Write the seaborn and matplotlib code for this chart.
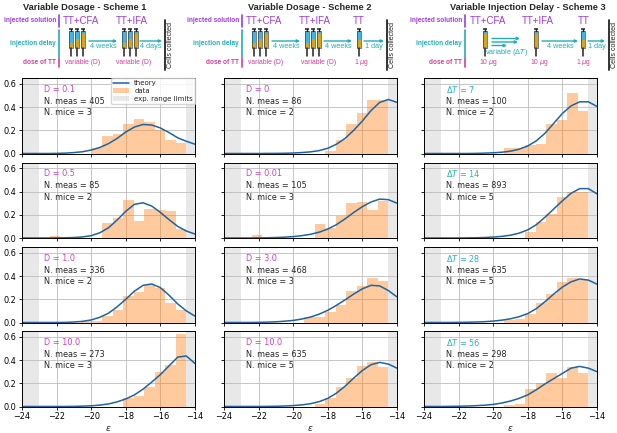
import numpy as np
import pandas as pd
import seaborn as sns
import matplotlib.pyplot as plt
from matplotlib.patches import Patch, Rectangle
from matplotlib.lines import Line2D

# ---- data ----
bin_edges = np.linspace(-23, -14.5, 15)          # 14 bins, shared by all panels
bin_mids = (bin_edges[:-1] + bin_edges[1:]) / 2
eps_grid = np.arange(-24, -13.99, 0.5)            # theory curve sample points

# scheme 1: variable dosage
s1_labels = ["D = 0.1", "D = 0.5", "D = 1.0", "D = 10.0"]
s1_meas = [405, 85, 336, 273]
s1_mice = [3, 2, 2, 3]
s1_hist = [
    [0, 0, 0, 0, 0, 0.05, 0.15, 0.17, 0.25, 0.30, 0.27, 0.20, 0.12, 0.09],
    [0, 0.015, 0, 0.005, 0, 0, 0.13, 0.17, 0.33, 0.15, 0.25, 0.24, 0.23, 0.08],
    [0, 0, 0, 0, 0.01, 0.01, 0.06, 0.11, 0.23, 0.26, 0.32, 0.30, 0.17, 0.11],
    [0, 0, 0, 0, 0, 0, 0, 0, 0.07, 0.09, 0.165, 0.30, 0.36, 0.625],
]
s1_theory = [
    [0, 0, 0, 0, 0.001, 0.003, 0.008, 0.015, 0.03, 0.052, 0.085, 0.13, 0.185, 0.228, 0.25, 0.245, 0.22, 0.18, 0.135, 0.105, 0.08],
    [0, 0, 0, 0, 0.001, 0.002, 0.004, 0.009, 0.02, 0.045, 0.088, 0.155, 0.23, 0.29, 0.303, 0.275, 0.22, 0.158, 0.1, 0.06, 0.034],
    [0, 0, 0, 0, 0, 0.001, 0.004, 0.01, 0.022, 0.045, 0.08, 0.135, 0.2, 0.27, 0.32, 0.332, 0.3, 0.235, 0.16, 0.1, 0.055],
    [0, 0, 0, 0, 0, 0, 0.001, 0.003, 0.006, 0.012, 0.022, 0.04, 0.065, 0.1, 0.15, 0.21, 0.275, 0.35, 0.425, 0.435, 0.37],
]

# scheme 2: variable dosage, 3 injections
s2_labels = ["D = 0", "D = 0.01", "D = 3.0", "D = 10.0"]
s2_meas = [86, 105, 468, 635]
s2_mice = [2, 3, 3, 5]
s2_hist = [
    [0, 0, 0, 0, 0, 0, 0, 0, 0.02, 0.115, 0.255, 0.35, 0.46, 0.46],
    [0, 0.027, 0, 0, 0, 0, 0, 0.12, 0.09, 0.19, 0.30, 0.31, 0.24, 0.32],
    [0, 0, 0, 0, 0, 0, 0.05, 0.05, 0.09, 0.15, 0.27, 0.31, 0.38, 0.36],
    [0, 0, 0, 0, 0, 0, 0, 0.02, 0.07, 0.165, 0.245, 0.35, 0.38, 0.34],
]
s2_theory = [
    [0, 0, 0, 0, 0, 0.001, 0.001, 0.002, 0.004, 0.008, 0.014, 0.025, 0.045, 0.08, 0.13, 0.2, 0.28, 0.37, 0.44, 0.465, 0.44],
    [0, 0, 0, 0, 0.001, 0.002, 0.004, 0.007, 0.012, 0.02, 0.032, 0.05, 0.077, 0.115, 0.165, 0.22, 0.27, 0.31, 0.335, 0.33, 0.3],
    [0, 0, 0, 0, 0.001, 0.003, 0.006, 0.011, 0.018, 0.03, 0.047, 0.072, 0.105, 0.148, 0.195, 0.245, 0.29, 0.32, 0.315, 0.275, 0.22],
    [0, 0, 0, 0, 0, 0.001, 0.002, 0.004, 0.008, 0.014, 0.024, 0.042, 0.07, 0.115, 0.175, 0.245, 0.31, 0.36, 0.38, 0.365, 0.33],
]

# scheme 3: variable injection delay
s3_labels = [r"$\Delta T$ = 7", r"$\Delta T$ = 14", r"$\Delta T$ = 28", r"$\Delta T$ = 56"]
s3_meas = [100, 893, 635, 298]
s3_mice = [2, 5, 5, 2]
s3_hist = [
    [0, 0, 0, 0, 0, 0, 0.045, 0.045, 0.07, 0.08, 0.25, 0.29, 0.52, 0.37],
    [0, 0, 0, 0, 0, 0, 0, 0, 0.05, 0.14, 0.21, 0.35, 0.40, 0.40],
    [0, 0, 0, 0, 0, 0, 0.02, 0.03, 0.07, 0.165, 0.245, 0.35, 0.38, 0.365],
    [0, 0, 0, 0, 0, 0, 0.01, 0.02, 0.15, 0.20, 0.285, 0.245, 0.34, 0.285],
]
s3_theory = [
    [0, 0, 0, 0, 0, 0, 0.001, 0.003, 0.006, 0.011, 0.02, 0.037, 0.065, 0.11, 0.175, 0.26, 0.345, 0.41, 0.445, 0.445, 0.405],
    [0, 0, 0, 0, 0, 0.001, 0.002, 0.004, 0.008, 0.014, 0.024, 0.042, 0.07, 0.115, 0.18, 0.25, 0.32, 0.385, 0.425, 0.425, 0.38],
    [0, 0, 0, 0, 0.001, 0.002, 0.004, 0.007, 0.012, 0.02, 0.032, 0.05, 0.077, 0.12, 0.18, 0.245, 0.305, 0.35, 0.375, 0.365, 0.33],
    [0, 0, 0, 0.001, 0.002, 0.004, 0.007, 0.011, 0.018, 0.03, 0.047, 0.07, 0.1, 0.145, 0.195, 0.24, 0.285, 0.33, 0.345, 0.33, 0.3],
]

# ---- style ----
sns.set_theme(style="ticks")
plt.rcParams['font.family'] = ['DejaVu Sans']
plt.rcParams['mathtext.fontset'] = 'dejavusans'

C_LINE = '#1f64a0'
C_DOSE = '#c940c0'
C_DT = '#2ab3b8'
PURPLE = '#9b3fd5'
TEAL = '#21adb5'
MAGENTA = '#cf3f9b'
FS = 5.9

W, H = 617, 433
fig = plt.figure(figsize=(W / 100, H / 100), dpi=100)

col_left = [22, 224, 424]
row_top = [78, 162.5, 247, 331]
ax_w, ax_h = 173, 75.5

schemes = [
    (s1_labels, s1_meas, s1_mice, s1_hist, s1_theory, C_DOSE),
    (s2_labels, s2_meas, s2_mice, s2_hist, s2_theory, C_DOSE),
    (s3_labels, s3_meas, s3_mice, s3_hist, s3_theory, C_DT),
]

for c, (labels, meas, mice, hists, theos, lab_col) in enumerate(schemes):
    for r in range(4):
        ax = fig.add_axes([col_left[c] / W, 1 - (row_top[r] + ax_h) / H, ax_w / W, ax_h / H])
        ax.axvspan(-24, -23, color='lightgray', alpha=0.5, lw=0, zorder=0)
        ax.axvspan(-14.5, -14, color='lightgray', alpha=0.5, lw=0, zorder=0)
        hdf = pd.DataFrame({'eps': bin_mids, 'dens': hists[r]})
        sns.histplot(data=hdf, x='eps', weights='dens', bins=list(bin_edges), ax=ax,
                     color='tab:orange', alpha=0.4, linewidth=0, stat='count')
        sns.lineplot(x=eps_grid, y=theos[r], ax=ax, color=C_LINE, lw=1.1)
        ax.set_xlim(-24, -14)
        ax.set_ylim(0, 0.65)
        ax.set_xticks([-24, -22, -20, -18, -16, -14])
        ax.set_yticks([0, 0.2, 0.4, 0.6])
        ax.grid(True, color='#bdbdbd', lw=0.6)
        ax.set_axisbelow(True)
        ax.set_ylabel('')
        ax.set_xlabel('')
        for sp in ax.spines.values():
            sp.set_color('black')
            sp.set_linewidth(0.7)
        ax.tick_params(labelsize=FS, length=2.5, width=0.6, pad=1.5, colors='black')
        if c > 0:
            ax.tick_params(labelleft=False)
        else:
            ax.set_yticklabels(['0.0', '0.2', '0.4', '0.6'])
        if r < 3:
            ax.tick_params(labelbottom=False)
        else:
            ax.set_xlabel(r'$\varepsilon$', fontsize=FS + 0.5, labelpad=2)
        ax.text(0.13, 0.85, labels[r], transform=ax.transAxes, color=lab_col, fontsize=FS, va='center')
        ax.text(0.13, 0.69, f"N. meas = {meas[r]}", transform=ax.transAxes, fontsize=FS, va='center')
        ax.text(0.13, 0.54, f"N. mice = {mice[r]}", transform=ax.transAxes, fontsize=FS, va='center')
        if c == 0 and r == 0:
            handles = [Line2D([0], [0], color=C_LINE, lw=1.1),
                       Patch(color='tab:orange', alpha=0.4, lw=0),
                       Patch(color='lightgray', alpha=0.5, lw=0)]
            ax.legend(handles, ['theory', 'data', 'exp. range limits'], loc='upper right',
                      fontsize=5.0, borderaxespad=0.0, handlelength=2.2, framealpha=0.8,
                      borderpad=0.3, labelspacing=0.3, fancybox=True, edgecolor='#cccccc')

# ---- schematics above the panels (pixel coordinates) ----
ax0 = fig.add_axes([0, 0, 1, 1])
ax0.set_xlim(0, W)
ax0.set_ylim(H, 0)
ax0.axis('off')
SF = 'Liberation Sans'


def syringe(x, blue_frac):
    top, b0, b1, tip = 28.5, 31.0, 48.0, 55.5
    ax0.plot([x - 2.4, x + 2.4], [top, top], color='#222222', lw=1.1, solid_capstyle='butt')
    ax0.plot([x, x], [top, b0], color='#222222', lw=1.0)
    hb = (b1 - b0) * blue_frac
    ax0.add_patch(Rectangle((x - 2.3, b0), 4.6, hb, facecolor='#3fb6e8', edgecolor='none'))
    ax0.add_patch(Rectangle((x - 2.3, b0 + hb), 4.6, (b1 - b0) - hb, facecolor='#d6a51e', edgecolor='none'))
    ax0.add_patch(Rectangle((x - 2.3, b0), 4.6, b1 - b0, facecolor='none', edgecolor='#333333', lw=0.45))
    ax0.plot([x, x], [b1, tip], color='#222222', lw=1.1)


def arrow(x1, x2, y):
    ax0.annotate('', xy=(x2, y), xytext=(x1, y),
                 arrowprops=dict(arrowstyle='-|>', color=TEAL, lw=1.0, mutation_scale=4,
                                 shrinkA=0, shrinkB=0))


def side_labels(xr):
    ax0.text(xr, 21, 'injected solution', ha='right', va='center', color=PURPLE,
             fontsize=4.7, fontweight='bold', family=SF)
    ax0.text(xr, 43.5, 'injection delay', ha='right', va='center', color=TEAL,
             fontsize=4.7, fontweight='bold', family=SF)
    ax0.text(xr, 62, 'dose of TT', ha='right', va='center', color=MAGENTA,
             fontsize=4.7, fontweight='bold', family=SF)
    ax0.plot([xr + 3, xr + 3], [15, 27], color=PURPLE, lw=1.2)
    ax0.plot([xr + 3, xr + 3], [29.5, 56.5], color=TEAL, lw=1.2)
    ax0.plot([xr + 3, xr + 3], [57.5, 67], color=MAGENTA, lw=1.2)


def cells(x):
    ax0.plot([x, x], [20, 70], color='#222222', lw=1.3)
    ax0.text(x + 6, 45, 'Cells collected', rotation=90, ha='center', va='center',
             fontsize=5.1, family=SF, color='#222222')


def inj(x, txt):
    ax0.text(x, 21, txt, ha='left', va='center', color=PURPLE, fontsize=7, family=SF)


def dose(x, txt, ha='left'):
    ax0.text(x, 62, txt, ha=ha, va='center', color=MAGENTA, fontsize=4.9, family=SF)


def delay(x1, x2, txt):
    arrow(x1, x2, 41)
    ax0.text((x1 + x2) / 2, 46, txt, ha='center', va='center', color=TEAL, fontsize=5.2, family=SF)


# scheme 1
ax0.text(84.5, 7.5, 'Variable Dosage - Scheme 1', ha='center', va='center',
         fontsize=6.7, fontweight='bold', family=SF)
side_labels(56)
inj(63, 'TT+CFA')
inj(116, 'TT+IFA')
for x, f in zip([71, 77, 83], [0.7, 0.45, 0.15]):
    syringe(x, f)
for x, f in zip([124, 130, 136], [0.7, 0.45, 0.15]):
    syringe(x, f)
delay(89, 117, '4 weeks')
delay(140, 162, '4 days')
cells(165)
dose(65, 'variable (D)')
dose(116, 'variable (D)')

# scheme 2
ax0.text(309.5, 7.5, 'Variable Dosage - Scheme 2', ha='center', va='center',
         fontsize=6.7, fontweight='bold', family=SF)
side_labels(239)
inj(246, 'TT+CFA')
inj(299, 'TT+IFA')
inj(353, 'TT')
for x, f in zip([254, 260, 266], [0.7, 0.45, 0.15]):
    syringe(x, f)
for x, f in zip([307, 313, 319], [0.7, 0.45, 0.15]):
    syringe(x, f)
syringe(359, 0.55)
delay(272, 300, '4 weeks')
delay(324, 352, '4 weeks')
delay(364, 384, '1 day')
cells(387)
dose(248, 'variable (D)')
dose(301, 'variable (D)')
dose(362, r'1 $\mu$g', ha='center')

# scheme 3
ax0.text(528, 7.5, 'Variable Injection Delay - Scheme 3', ha='center', va='center',
         fontsize=6.7, fontweight='bold', family=SF)
side_labels(462)
inj(470, 'TT+CFA')
inj(522, 'TT+IFA')
inj(578, 'TT')
syringe(485, 0.15)
syringe(536, 0.15)
syringe(583, 0.55)
arrow(492, 520, 38.5)
arrow(492, 518, 42)
arrow(492, 507, 45.5)
ax0.text(507, 52, r'variable ($\Delta T$)', ha='center', va='center', color=TEAL, fontsize=5.2, family=SF)
delay(542, 578, '4 weeks')
delay(588, 605, '1 day')
cells(609)
dose(488, r'10 $\mu$g', ha='center')
dose(539, r'10 $\mu$g', ha='center')
dose(584, r'1 $\mu$g', ha='center')

fig.savefig('out.png', dpi=100)
